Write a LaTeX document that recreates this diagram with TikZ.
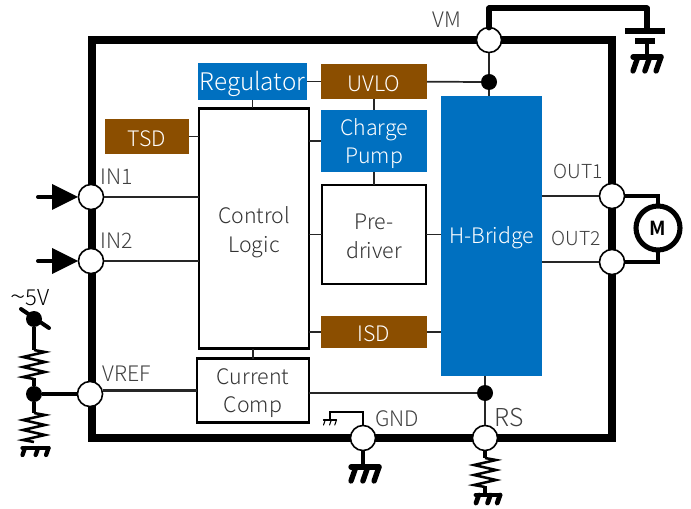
\documentclass[tikz,border=0pt]{standalone}
\usepackage{fontspec}
\setmainfont{Noto Sans CJK JP Light}
\newfontfamily\boldf{Noto Sans CJK JP Bold}
\definecolor{blue1}{HTML}{0070C0}
\definecolor{brown1}{HTML}{8B4E00}
\newcommand\dn[1]{\raisebox{-2pt}[\height][\depth]{#1}}
\tikzset{
  every node/.style={inner sep=0pt,outer sep=0pt,font=\fontsize{16pt}{21.5pt}\selectfont},
  thinw/.style={line width=1.3pt,black!85},
  thickw/.style={line width=3.6pt,black,line cap=round,line join=round},
  pin/.style={circle,draw=black,fill=white,line width=1.2pt,minimum size=18.8pt},
  dot/.style={circle,fill=black,minimum size=12pt},
  lbl/.style={text=black!75,font=\fontsize{16pt}{16pt}\selectfont},
  bluebox/.style={fill=blue1,text=white,align=center},
  brownbox/.style={fill=brown1,text=white,align=center},
  whitebox/.style={draw=black,fill=white,line width=1.6pt,text=black!80,align=center},
  pics/gnd/.style args={#1/#2/#3}{code={
    \draw[line width=#2,line cap=round] (-#1,0) -- (#1,0);
    \draw[line width=#2,line cap=round] (-#1+#3*0.35,0) -- (-#1,#3)
       (#1*0.2,0) -- (#1*0.2-#3*0.35,#3) (#1,0) -- (#1-#3*0.35,#3);
  }},
  pics/zig/.style={code={
    \draw[line width=1.9pt,line join=miter]
      (0,0) -- (11,2) -- (-11,7) -- (11,12) -- (-11,17) -- (11,22) -- (-11,27) -- (0,29);
  }}
}
\begin{document}
\begin{tikzpicture}[x=0.75pt,y=-0.75pt]
\useasboundingbox (0,0) rectangle (691,509);
% chip frame
\node[draw=black,line width=6pt,minimum width=390.7pt,minimum height=298.5pt,anchor=center] (frame) at (352,239) {};
% boxes
\node[bluebox,minimum width=81.75pt,minimum height=27.75pt,font=\fontsize{18.2pt}{18pt}\selectfont] (reg) at (252.5,81.5) {\dn{Regulator}};
\node[brownbox,minimum width=79.5pt,minimum height=26.25pt] (uvlo) at (374,81.5) {\dn{UVLO}};
\node[brownbox,minimum width=63pt,minimum height=26.25pt] (tsd) at (147,136.5) {\dn{TSD}};
\node[bluebox,minimum width=79.5pt,minimum height=46.5pt] (cp) at (374,141) {\dn{Charge}\\\dn{Pump}};
\node[whitebox,minimum width=78.5pt,minimum height=74.5pt] (pre) at (374,234.5) {\raisebox{-1.3pt}[\height][\depth]{Pre-}\\\raisebox{-1.3pt}[\height][\depth]{driver}};
\node[brownbox,minimum width=79.5pt,minimum height=24pt] (isd) at (374,332) {\raisebox{-1.3pt}[\height][\depth]{ISD}};
\node[whitebox,minimum width=83pt,minimum height=180pt] (ctrl) at (254,228.5) {\raisebox{-2.8pt}[\height][\depth]{Control}\\\raisebox{-2.8pt}[\height][\depth]{Logic}};
\node[whitebox,minimum width=84.5pt,minimum height=48pt] (comp) at (253,390.5) {\dn{Current}\\\dn{Comp}};
\node[bluebox,minimum width=75.75pt,minimum height=210pt] (hb) at (491.5,236) {\raisebox{-1.5pt}[\height][\depth]{H-Bridge}};
% pins
\node[pin] (vm) at (489,40) {};
\node[pin] (in1) at (91,197) {};
\node[pin] (in2) at (91,261) {};
\node[pin] (vref) at (90,394) {};
\node[pin] (gnd) at (363,438) {};
\node[pin] (rs) at (485,438) {};
\node[pin] (out1) at (612,196) {};
\node[pin] (out2) at (612,262) {};
% junctions
\node[dot] (jvm) at (489,82) {};
\node[dot] (jrs) at (485,393) {};
\node[dot] (jref) at (34,394) {};
\node[dot] (j5v) at (34,319) {};
% thin connectors
\draw[thinw] (vm) -- (jvm);
\draw[thinw] (jvm) -- (jvm |- hb.north);
\draw[thinw] (uvlo) -- (jvm);
\draw[thinw] (reg) -- (uvlo);
\draw[thinw] (reg.south) -- (ctrl.north -| reg.south);
\draw[thinw] (uvlo) -- (cp);
\draw[thinw] (cp) -- (pre);
\draw[thinw] (tsd.east) -- (ctrl.west |- tsd.east);
\draw[thinw] (ctrl.east |- cp.west) -- (cp.west);
\draw[thinw] (ctrl.east |- pre.west) -- (pre.west);
\draw[thinw] (ctrl.east |- isd.west) -- (isd.west);
\draw[thinw] (pre.east) -- (hb.west |- pre.east);
\draw[thinw] (isd.east) -- (hb.west |- isd.east);
\draw[thinw] (in1) -- (ctrl.west |- in1);
\draw[thinw] (in2) -- (ctrl.west |- in2);
\draw[thinw] (ctrl.south -| comp.north) -- (comp.north);
\draw[thinw,line width=1.8pt] (vref.east |- comp.west) -- (comp.west);
\draw[thinw,line width=1.8pt] (comp.east |- jrs) -- (jrs);
\draw[thinw] (jrs |- hb.south) -- (jrs);
\draw[thinw] (jrs) -- (rs);
\draw[thinw] (hb.east |- out1) -- (out1);
\draw[thinw] (hb.east |- out2) -- (out2);
% small internal ground
\coordinate (sg) at (330,420);
\draw[line width=0.9pt] (gnd.north) -- (363,412) -| (sg);
\path (sg) pic {gnd={6.5/0.8pt/5}};
% VM supply
\coordinate (cap1) at (647,31);
\coordinate (cap2) at (647,41);
\coordinate (g1) at (647,57);
\draw[thickw,line width=4.5pt] (vm.north) -- (489,8.5) -- (647,8.5) -- (cap1);
\draw[line width=4.5pt] (625,31) -- (665,31);
\draw[line width=4.5pt] (635,41) -- (655,41);
\draw[line width=3.6pt] (cap2) -- (g1);
\path (g1) pic {gnd={14/4pt/14}};
% inputs
\coordinate (a1) at (38,197);
\coordinate (a2) at (38,261);
\draw[line width=3pt,line cap=round] (a1) -- (52,197);
\draw[line width=3pt,line cap=round] (a2) -- (52,261);
\fill (52,184) -- (78,197) -- (52,210) -- cycle;
\fill (52,248) -- (78,261) -- (52,274) -- cycle;
% VREF divider
\coordinate (z1) at (34,350);
\coordinate (z2) at (34,413);
\draw[line width=3pt] (vref) -- (jref);
\draw[line width=3pt,line cap=round] (21,309) -- (49,328);
\draw[line width=3pt] (j5v) -- (z1);
\path (z1) pic {zig};
\draw[line width=3pt] (34,378) -- (jref);
\draw[line width=3pt] (jref) -- (z2);
\path (z2) pic {zig};
\path (35.5,448) pic {gnd={13/3.2pt/7}};
% GND
\draw[line width=3pt] (gnd.south) -- (363,467);
\path (365,467) pic {gnd={14/4pt/14}};
% RS
\coordinate (z3) at (485,458);
\draw[line width=3pt] (rs.south) -- (z3);
\path (z3) pic {zig};
\draw[line width=3pt] (485,486) -- (485,495);
\path (488,495) pic {gnd={12/3.6pt/8}};
% motor
\node[circle,draw=black,fill=white,line width=3.8pt,minimum size=33pt,font=\boldf\fontsize{14.5pt}{14pt}\selectfont] (m) at (658,228) {M};
\draw[thickw,line join=miter,line cap=butt] (out1) -- (m.north |- out1) -- (m.north);
\draw[thickw,line join=miter,line cap=butt] (out2) -- (m.south |- out2) -- (m.south);
% labels
\node[lbl] (tvm) at (447,20) {VM};
\node[lbl] (tin1) at (117,177) {IN1};
\node[lbl] (tin2) at (117,241) {IN2};
\node[lbl] (tvref) at (127,374) {VREF};
\node[lbl] (tgnd) at (397,419) {GND};
\node[lbl,font=\fontsize{18.5pt}{18pt}\selectfont] (trs) at (509,418) {RS};
\node[lbl,font=\fontsize{14.5pt}{14pt}\selectfont] (tout1) at (578,171) {OUT1};
\node[lbl,font=\fontsize{14.5pt}{14pt}\selectfont] (tout2) at (576.5,238) {OUT2};
\node[lbl,text=black,font=\fontsize{16.5pt}{18pt}\selectfont] (t5v) at (30,298) {\scalebox{1.3}[1.1]{\char`\~}\kern-0.5pt 5V};
\end{tikzpicture}
\end{document}
